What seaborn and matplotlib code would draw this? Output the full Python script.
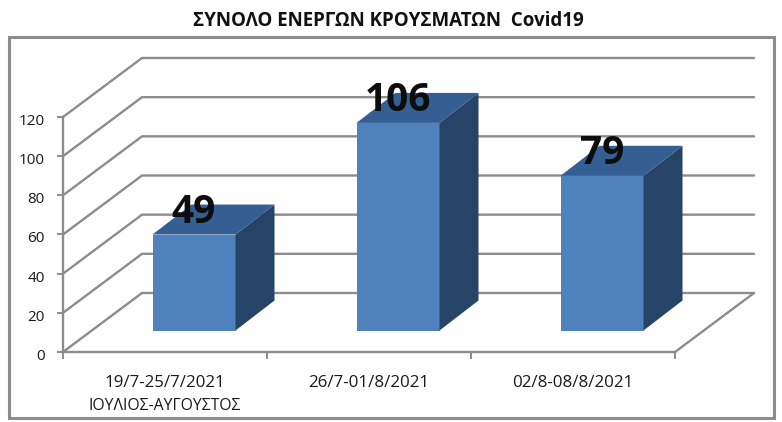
import matplotlib
matplotlib.use("Agg")
import matplotlib.pyplot as plt
from matplotlib.patches import Polygon, Rectangle
from matplotlib.transforms import ScaledTranslation
import pandas as pd
import seaborn as sns

categories = ["19/7-25/7/2021\nΙΟΥΛΙΟΣ-ΑΥΓΟΥΣΤΟΣ", "26/7-01/8/2021", "02/8-08/8/2021"]
cases = [49, 106, 79]
y_ticks = [0, 20, 40, 60, 80, 100, 120]
title = "ΣΥΝΟΛΟ ΕΝΕΡΓΩΝ ΚΡΟΥΣΜΑΤΩΝ  Covid19"

W, H = 782, 422
FRONT, SIDE, TOP = "#4f81bd", "#264468", "#355f92"
GRID = "#8c8c8c"
TXT = "#1a1a1a"

sns.set_theme(style="white")
plt.rcParams["font.family"] = ["Open Sans", "DejaVu Sans"]

fig = plt.figure(figsize=(W / 100, H / 100), dpi=100, facecolor="white")


def px_axes(x0, y0, x1, y1, **kw):
    return fig.add_axes([x0 / W, 1 - y1 / H, (x1 - x0) / W, (y1 - y0) / H], **kw)


# frame
fig.add_artist(Rectangle((9 / W, 1 - 418 / H), 765 / W, 381 / H, transform=fig.transFigure,
                         fc="white", ec=GRID, lw=2.2, zorder=-1))

# main axes (front floor plane)
ax = px_axes(63, 117, 675, 352)
ax.patch.set_alpha(0)
ax.set_xlim(-0.5, 2.5)
ax.set_ylim(0, 120)
depth_x, depth_y = 79 / 204, 59 / (235 / 120)

for v in y_ticks:
    ax.plot([-0.5, -0.5 + depth_x, 2.5 + depth_x], [v, v + depth_y, v + depth_y],
            color=GRID, lw=1.7, clip_on=False, solid_joinstyle="miter", zorder=1)
ax.plot([2.5, 2.5 + depth_x], [0, depth_y], color=GRID, lw=1.7, clip_on=False, zorder=1)

for s in ("top", "right"):
    ax.spines[s].set_visible(False)
for s in ("left", "bottom"):
    ax.spines[s].set_color(GRID)
    ax.spines[s].set_linewidth(1.7)
ax.set_yticks(y_ticks)
ax.set_xticks([-0.5, 0.5, 1.5, 2.5])
ax.set_xticklabels([])
ax.tick_params(axis="y", left=True, length=4, width=1.4, color=GRID, labelsize=11, pad=9,
               labelcolor=TXT)
ax.tick_params(axis="x", bottom=True, length=5, width=1.4, color=GRID)
for lab in ax.get_yticklabels():
    lab.set_transform(lab.get_transform() + ScaledTranslation(0, -2.5 / 100, fig.dpi_scale_trans))

for i, c in enumerate(categories):
    lines = c.split("\n")
    ax.text(i, -11.8, lines[0], ha="center", va="top", fontsize=12.2, color=TXT, clip_on=False)
    if len(lines) > 1:
        ax.text(i, -23.6, lines[1], ha="center", va="top", fontsize=11.3, color=TXT, clip_on=False)

# bars sit inside the floor depth, in an overlay axes shifted along the depth direction
bx = px_axes(63 + 29, 117 - 21.5, 675 + 29, 352 - 21.5)
bx.patch.set_alpha(0)
df = pd.DataFrame({"period": categories, "cases": cases})
sns.barplot(data=df, x="period", y="cases", ax=bx, color=FRONT, saturation=1, width=83 / 204,
            zorder=3, edgecolor="none", linewidth=0)
bx.set_xlim(-0.5, 2.5)
bx.set_ylim(0, 120)
bx.axis("off")

bar_dx, bar_dy = 39 / 204, 30 / (235 / 120)
for bar in bx.patches:
    x0, w, v = bar.get_x(), bar.get_width(), bar.get_height()
    x1 = x0 + w
    bx.add_patch(Polygon([(x1, 0), (x1 + bar_dx, bar_dy), (x1 + bar_dx, v + bar_dy), (x1, v)],
                         fc=SIDE, ec="none", clip_on=False, zorder=3))
    bx.add_patch(Polygon([(x0, v), (x0 + bar_dx, v + bar_dy), (x1 + bar_dx, v + bar_dy), (x1, v)],
                         fc=TOP, ec="none", clip_on=False, zorder=3))
    bar.set_clip_on(False)

for lab in bx.bar_label(bx.containers[0], labels=[str(v) for v in cases], padding=2,
                        fontsize=28, fontweight="bold", color="#0d0d0d", zorder=5):
    lab.set_clip_on(False)

fig.text(388 / W, 1 - 21.5 / H, title, ha="center", va="center", fontsize=13.5, fontweight="bold",
         color="#111111")

fig.savefig("out.png", dpi=100)
